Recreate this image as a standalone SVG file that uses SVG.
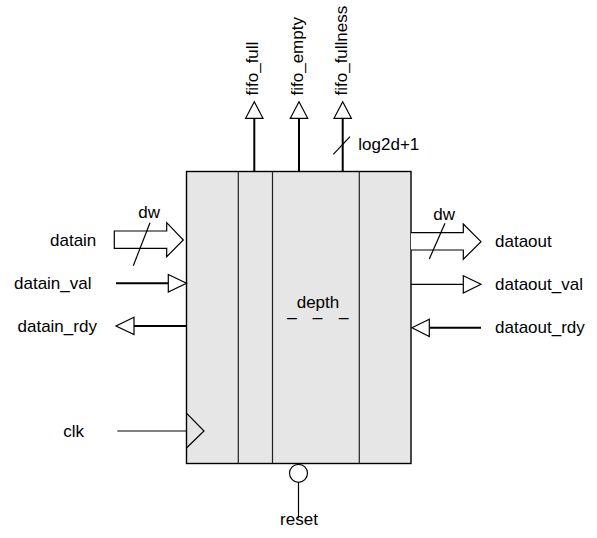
<svg xmlns="http://www.w3.org/2000/svg" width="597" height="538" viewBox="0 0 597 538">
<style>
text{font-family:"Liberation Sans",Arial,sans-serif;font-size:17px;fill:#000}
.w{stroke:#000;stroke-width:2;fill:none}
.t{stroke:#000;stroke-width:1.2;fill:none}
.ah{fill:#fff;stroke:#000;stroke-width:1.2;stroke-linejoin:miter}
.div{stroke:#222;stroke-width:1.2}
</style>
<rect width="597" height="538" fill="#fff"/>
<g id="fifo">
<rect x="186.5" y="171.5" width="224.5" height="292" fill="#e6e6e6" stroke="#000" stroke-width="1.4"/>
<line class="div" x1="238.3" y1="171.5" x2="238.3" y2="463.5"/>
<line class="div" x1="272.5" y1="171.5" x2="272.5" y2="463.5"/>
<line class="div" x1="359.3" y1="171.5" x2="359.3" y2="463.5"/>
<text><tspan x="296.7" y="308.3">depth</tspan><tspan x="287.3" y="315.8">_</tspan><tspan x="312.7" y="315.8">_</tspan><tspan x="339" y="315.8">_</tspan></text>
<polyline class="t" points="186.7,413.3 204,431 186.7,447.7"/>
</g>
<g id="connectors">
<line class="w" x1="254.3" y1="118" x2="254.3" y2="171.5"/>
<polygon class="ah" points="254.3,101.7 263,118.3 245.6,118.3"/>
<line class="w" x1="299" y1="118" x2="299" y2="171.5"/>
<polygon class="ah" points="299,101.7 307.7,118.3 290.3,118.3"/>
<line class="w" x1="342.7" y1="118" x2="342.7" y2="171.5"/>
<polygon class="ah" points="342.7,101.7 351.4,118.3 334,118.3"/>
<line class="t" x1="333.3" y1="154.3" x2="350" y2="136.7"/>
<polygon class="ah" points="114.3,231 166.7,231 166.7,222.7 183.3,240 166.7,256.7 166.7,248.3 114.3,248.3"/>
<line class="t" x1="133.3" y1="265.7" x2="150" y2="222.7"/>
<line class="w" x1="116" y1="283.3" x2="168.3" y2="283.3"/>
<polygon class="ah" points="168.3,274.5 186.5,283.3 168.3,292"/>
<line class="w" x1="186.5" y1="326" x2="134" y2="326"/>
<polygon class="ah" points="134,317.3 116,326 134,334.5"/>
<line class="t" x1="117.3" y1="431" x2="186.5" y2="431"/>
<polyline class="ah" points="411,232.7 463.3,232.7 463.3,224 481,241.7 463.3,259.3 463.3,250 411,250"/>
<line class="t" x1="429.3" y1="259" x2="445" y2="223.3"/>
<line class="t" x1="411" y1="284.3" x2="463.3" y2="284.3"/>
<polygon class="ah" points="463.3,275.7 481,284.3 463.3,293"/>
<line class="w" x1="481" y1="327.7" x2="429.3" y2="327.7"/>
<polygon class="ah" points="429.3,319.3 412,327.7 429.3,336.5"/>
<circle class="ah" cx="298.5" cy="473.3" r="9"/>
<line class="t" x1="298.5" y1="482.3" x2="298.5" y2="518.3"/>
</g>
<g id="port-fifo_full"><text transform="translate(258,95.5) rotate(-90)">fifo_full</text></g>
<g id="port-fifo_empty"><text transform="translate(303.4,95.5) rotate(-90)">fifo_empty</text></g>
<g id="port-fifo_fullness"><text transform="translate(346.7,95.5) rotate(-90)">fifo_fullness</text><text x="358.3" y="150">log2d+1</text></g>
<g id="port-datain"><text x="50" y="246">datain</text><text x="138.3" y="218.3">dw</text></g>
<g id="port-datain_val"><text x="14" y="289">datain_val</text></g>
<g id="port-datain_rdy"><text x="17.5" y="332">datain_rdy</text></g>
<g id="port-clk"><text x="63.3" y="436.5">clk</text></g>
<g id="port-dataout"><text x="495" y="247">dataout</text><text x="433.3" y="220">dw</text></g>
<g id="port-dataout_val"><text x="495" y="290">dataout_val</text></g>
<g id="port-dataout_rdy"><text x="495" y="333">dataout_rdy</text></g>
<g id="port-reset"><text x="299" y="525" text-anchor="middle">reset</text></g>
</svg>
